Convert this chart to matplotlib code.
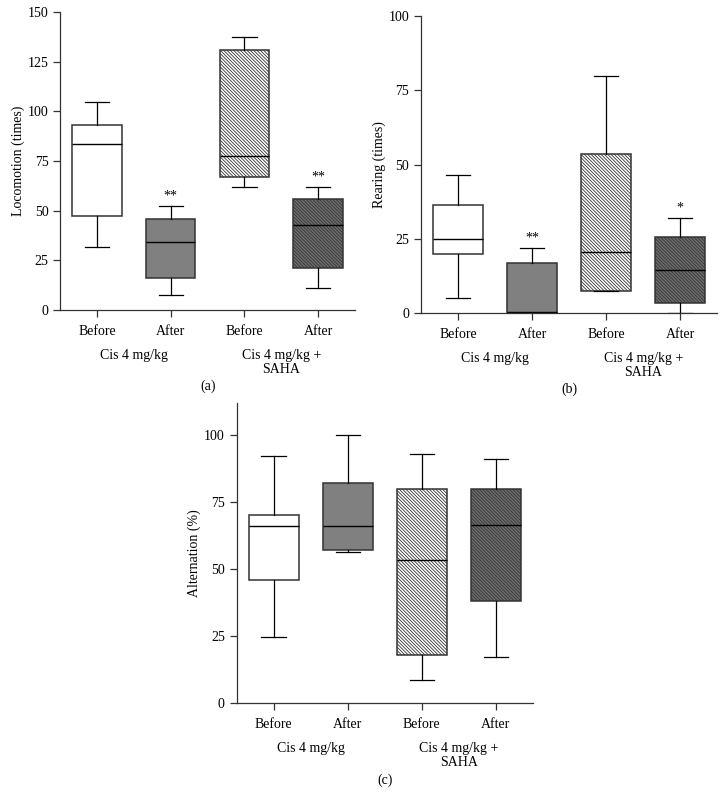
import matplotlib.pyplot as plt

plt.rcParams['font.family'] = ['Liberation Serif', 'DejaVu Serif']
plt.rcParams['hatch.linewidth'] = 0.6

tick_labels = ['Before', 'After', 'Before', 'After']
group_labels = ['Cis 4 mg/kg', 'Cis 4 mg/kg +\nSAHA']

# box stats per group: (whislo, q1, median, q3, whishi)
loco = [(31.5, 47.5, 83.5, 93, 104.5),
        (7.5, 16, 34, 46, 52.5),
        (62, 67, 77.5, 131, 137.5),
        (11, 21, 43, 56, 62)]
rearing = [(5, 20, 25, 36.5, 46.5),
           (0, 0, 0.5, 17, 22),
           (7.5, 7.5, 20.5, 53.5, 80),
           (0, 3.5, 14.5, 25.5, 32)]
altern = [(24.5, 46, 66, 70, 92),
          (56.5, 57, 66, 82, 100),
          (8.5, 18, 53.5, 80, 93),
          (17, 38, 66.5, 80, 91)]

loco_stars = ['', '**', '', '**']
rearing_stars = ['', '**', '', '*']
altern_stars = ['', '', '', '']

faces = ['white', '#808080', 'white', '#6e6e6e']
hatches = [None, None, '\\' * 10, '\\' * 10]
FS = 10


def draw(ax, data, stars, ylim, yticks, ylabel, letter):
    stats = []
    for lo, q1, med, q3, hi in data:
        stats.append(dict(whislo=lo, q1=q1, med=med, q3=q3, whishi=hi, fliers=[]))
    bp = ax.bxp(stats, positions=[1, 2, 3, 4], widths=0.67, patch_artist=True,
                showfliers=False,
                boxprops=dict(linewidth=1.1, edgecolor='#333333'),
                medianprops=dict(color='black', linewidth=1.0),
                whiskerprops=dict(color='black', linewidth=0.9),
                capprops=dict(color='black', linewidth=0.9),
                capwidths=0.33)
    for patch, fc, h in zip(bp['boxes'], faces, hatches):
        patch.set_facecolor(fc)
        if h:
            patch.set_hatch(h)
    for i, s in enumerate(stars):
        if s:
            ax.text(i + 1, data[i][4] + ylim[1] * 0.012, s, ha='center', va='bottom',
                    fontsize=FS)
    ax.set_xlim(0.5, 4.5)
    ax.set_ylim(*ylim)
    ax.set_yticks(yticks)
    ax.set_xticks([1, 2, 3, 4])
    ax.set_xticklabels(tick_labels, fontsize=FS)
    ax.tick_params(axis='y', labelsize=FS, length=5, width=0.9, color='#333333')
    ax.tick_params(axis='x', length=5, width=0.9, pad=6, color='#333333')
    ax.set_ylabel(ylabel, fontsize=FS, labelpad=2)
    for side in ['top', 'right']:
        ax.spines[side].set_visible(False)
    for side in ['left', 'bottom']:
        ax.spines[side].set_linewidth(0.9)
        ax.spines[side].set_color('#333333')
    ax.text(1.5, -0.13, group_labels[0], transform=ax.get_xaxis_transform(),
            ha='center', va='top', fontsize=FS)
    ax.text(3.5, -0.13, group_labels[1], transform=ax.get_xaxis_transform(),
            ha='center', va='top', fontsize=FS, linespacing=1.1)
    ax.text(2.5, -0.235, letter, transform=ax.get_xaxis_transform(),
            ha='center', va='top', fontsize=FS)


fig = plt.figure(figsize=(7.26, 8.09), dpi=100)
ax1 = fig.add_axes([0.083, 0.617, 0.406, 0.368])
ax2 = fig.add_axes([0.580, 0.613, 0.408, 0.367])
ax3 = fig.add_axes([0.326, 0.131, 0.408, 0.371])

draw(ax1, loco, loco_stars, (0, 150), [0, 25, 50, 75, 100, 125, 150],
     'Locomotion (times)', '(a)')
draw(ax2, rearing, rearing_stars, (0, 100), [0, 25, 50, 75, 100],
     'Rearing (times)', '(b)')
draw(ax3, altern, altern_stars, (0, 112), [0, 25, 50, 75, 100],
     'Alternation (%)', '(c)')

fig.savefig('out.png', dpi=100)
